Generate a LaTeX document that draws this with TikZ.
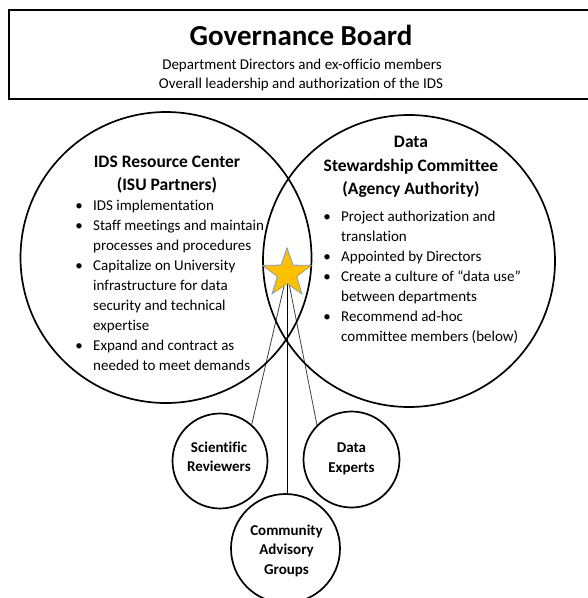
\documentclass[tikz,border=0pt]{standalone}
\usepackage{fontspec}
\setmainfont{Carlito}[Ligatures={NoCommon}]
\usetikzlibrary{shapes.geometric}
\pgfdeclarelayer{background}
\pgfsetlayers{background,main}
\definecolor{starfill}{HTML}{FFC000}
\definecolor{starline}{HTML}{7F9CC4}
\newcommand{\bitem}[1]{\makebox[14pt][l]{\makebox[0pt][c]{\textbullet}}#1}
\newcommand{\citem}[1]{\hspace*{14pt}#1}
\tikzset{
  bigcirc/.style={circle, draw, line width=1.7pt, inner sep=0pt},
  smallcirc/.style={circle, draw, line width=1.7pt, inner sep=0pt},
  boardbox/.style={draw, line width=1.6pt, inner sep=0pt, anchor=north west},
  thinline/.style={draw=black!75, line width=0.8pt},
  mainline/.style={draw=black, line width=1pt},
  txt/.style={inner sep=0pt, anchor=base},
}
\begin{document}
\begin{tikzpicture}[x=1pt,y=-1pt]
\useasboundingbox (0,0) rectangle (588,598);
% governance board
\node[boardbox, minimum width=592pt, minimum height=89pt] (board) at (8,9) {};
\node[txt, font=\bfseries\fontsize{29}{35}\selectfont] (title) at (301,45) {Governance Board};
\node[txt, font=\fontsize{15}{19}\selectfont] (sub1) at (302,69) {Department Directors and ex-officio members};
\node[txt, font=\fontsize{15}{19}\selectfont] (sub2) at (301,88) {Overall leadership and authorization of the IDS};
% big circles
\node[bigcirc, minimum size=291pt] (ids) at (166,257.5) {};
\node[bigcirc, minimum size=292pt] (dsc) at (409,261) {};
% small circles
\node[smallcirc, minimum size=95pt] (sci) at (220,461) {};
\node[smallcirc, minimum size=96pt] (de) at (351.5,459.5) {};
\node[smallcirc, minimum size=109pt] (cag) at (285.5,548.5) {};
% star
\node[star, star points=5, star point ratio=2.5, minimum size=51pt, inner sep=0pt,
      fill=starfill, draw=starline, line width=0.8pt] (star) at (287,273.3) {};
% connectors
\begin{pgfonlayer}{background}
\draw[thinline] (star.center) -- (sci.49);
\draw[thinline] (star.center) -- (de.135);
\draw[mainline] (star.center) -- (star.center |- cag.north);
\end{pgfonlayer}
% left circle text
\node[txt] (idsh) at (167,167.5) {\parbox[t]{220pt}{\centering\bfseries\fontsize{17.5}{23}\selectfont IDS Resource Center\\(ISU Partners)}};
\node[txt, anchor=base west] (idsl) at (79,210) {\parbox[t]{240pt}{\raggedright\fontsize{15}{20}\selectfont
\bitem{IDS implementation}\\
\bitem{Staff meetings and maintain}\\
\citem{processes and procedures}\\
\bitem{Capitalize on University}\\
\citem{infrastructure for data}\\
\citem{security and technical}\\
\citem{expertise}\\
\bitem{Expand and contract as}\\
\citem{needed to meet demands}}};
% right circle text
\node[txt] (dsch) at (411,147.5) {\parbox[t]{240pt}{\centering\bfseries\fontsize{17.5}{23.5}\selectfont Data\\Stewardship Committee\\(Agency Authority)}};
\node[txt, anchor=base west] (dscl) at (327,221) {\parbox[t]{240pt}{\raggedright\fontsize{15}{20}\selectfont
\bitem{Project authorization and}\\
\citem{translation}\\
\bitem{Appointed by Directors}\\
\bitem{Create a culture of “data use”}\\
\citem{between departments}\\
\bitem{Recommend ad-hoc}\\
\citem{committee members (below)}}};
% small circle texts
\node[txt] (scit) at (219,452) {\parbox[t]{90pt}{\centering\bfseries\fontsize{15}{19.5}\selectfont Scientific\\Reviewers}};
\node[txt] (det) at (351.5,452) {\parbox[t]{90pt}{\centering\bfseries\fontsize{15}{20}\selectfont Data\\Experts}};
\node[txt] (cagt) at (286.5,535) {\parbox[t]{100pt}{\centering\bfseries\fontsize{15}{19.5}\selectfont Community\\Advisory\\Groups}};
\end{tikzpicture}
\end{document}
